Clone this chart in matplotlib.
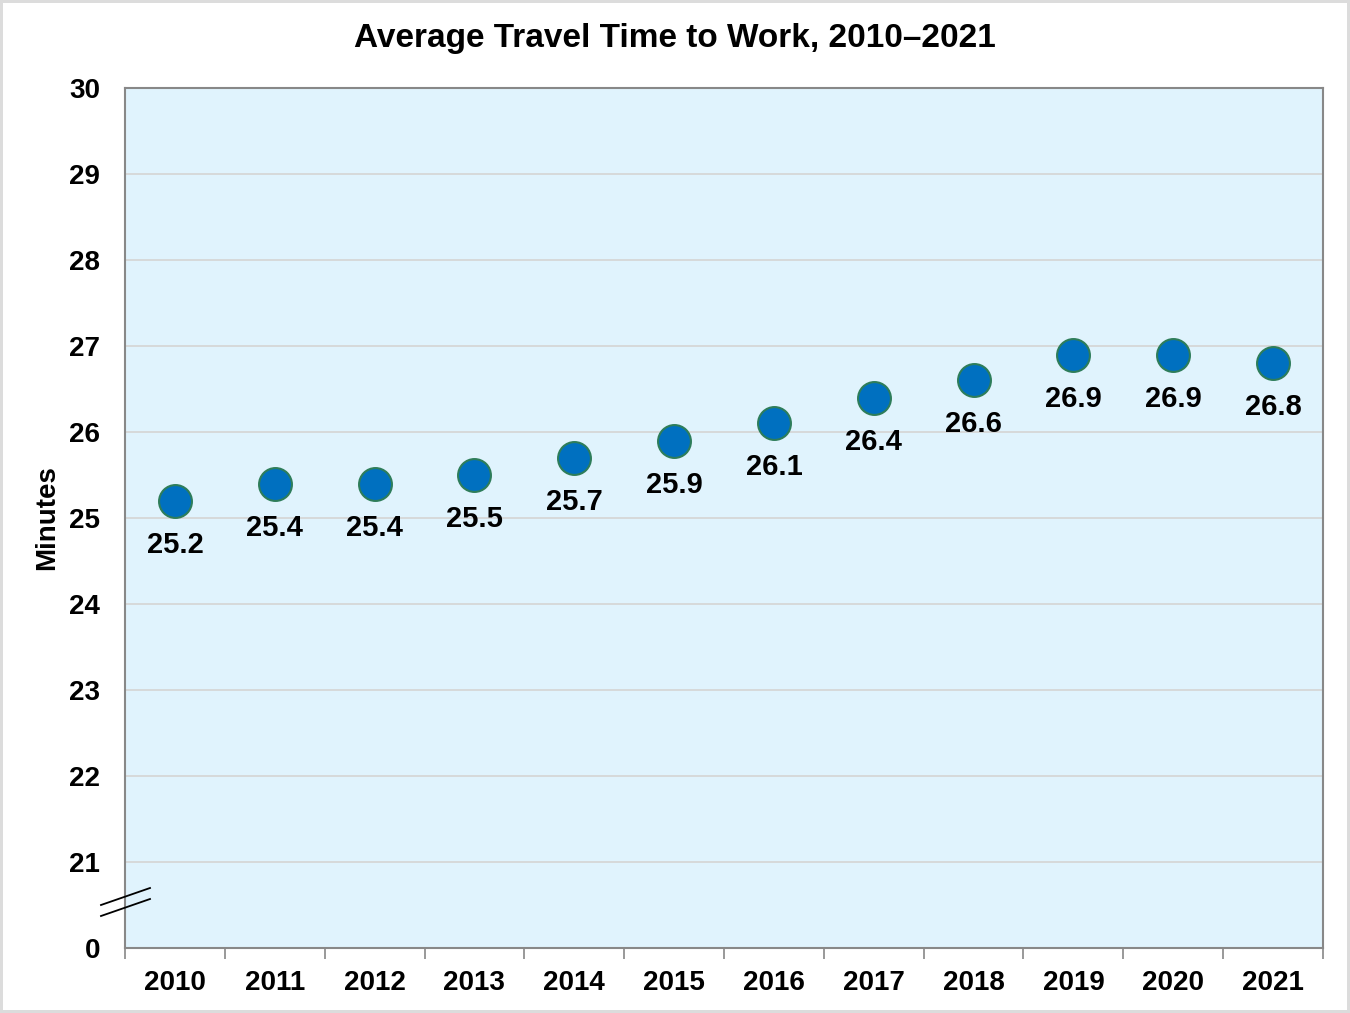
import matplotlib.pyplot as plt
from matplotlib.lines import Line2D

# Datos
years = ['2010', '2011', '2012', '2013', '2014', '2015',
         '2016', '2017', '2018', '2019', '2020', '2021']
minutes = [25.2, 25.4, 25.4, 25.5, 25.7, 25.9, 26.1, 26.4, 26.6, 26.9, 26.9, 26.8]
ytick_vals = [20, 21, 22, 23, 24, 25, 26, 27, 28, 29, 30]
ytick_labels = ['0', '21', '22', '23', '24', '25', '26', '27', '28', '29', '30']

plt.rcParams['font.family'] = ['Liberation Sans', 'DejaVu Sans']
plt.rcParams['font.weight'] = 'bold'

fig = plt.figure(figsize=(13.5, 10.13), dpi=100, edgecolor='#dcdcdc', linewidth=4)
ax = fig.add_axes([125/1350, 1-948/1013, (1323-125)/1350, (948-88)/1013])
ax.set_facecolor('#E0F3FD')

x = list(range(len(years)))
ax.scatter(x, minutes, s=560, color='#0070C0', edgecolors='#2E7D5A', linewidths=1.5, zorder=3)
for xi, v in zip(x, minutes):
    ax.annotate(f'{v:.1f}', (xi, v), xytext=(0, -44), textcoords='offset pixels',
                ha='center', va='center', fontsize=21, fontweight='bold', zorder=4)

ax.set_xlim(-0.5, len(years) - 0.5)
ax.set_ylim(20, 30)
ax.set_yticks(ytick_vals)
ax.set_yticklabels(ytick_labels)
ax.tick_params(axis='y', length=0, pad=18, labelsize=20)
ax.set_xticks(x)
ax.set_xticklabels(years)
ax.set_xticks([i - 0.5 for i in range(len(years) + 1)], minor=True)
ax.tick_params(axis='x', which='major', length=0, pad=16, labelsize=20)
ax.tick_params(axis='x', which='minor', length=8, width=1.2, color='#888888')

for g in ytick_vals[1:-1]:
    ax.axhline(g, color='#d4d4d4', linewidth=1.2, zorder=1)

for s in ax.spines.values():
    s.set_color('#888888')
    s.set_linewidth(1.5)

ax.set_ylabel('Minutes', fontsize=20, fontweight='bold', va='center')
ax.yaxis.set_label_coords(-0.065, 0.5)
fig.text(0.5, 1 - 38/1013, 'Average Travel Time to Work, 2010\u20132021',
         ha='center', va='center', fontsize=24, fontweight='bold')

# Marca de corte del eje
tr = fig.transFigure
for y0, y1 in [(1-905/1013, 1-888/1013), (1-916/1013, 1-899/1013)]:
    fig.add_artist(Line2D([101/1350, 150/1350], [y0, y1], transform=tr, color='black', linewidth=1.3))

fig.savefig('out.png', dpi=100)
